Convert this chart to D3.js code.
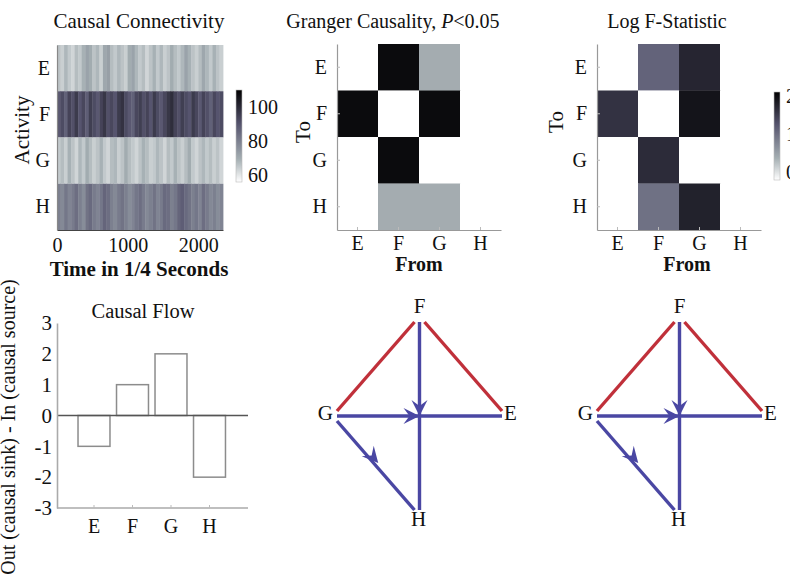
<!DOCTYPE html>
<html><head><meta charset="utf-8">
<script src="https://cdn.jsdelivr.net/npm/d3@7"></script>
<style>body{margin:0;background:#fff}svg{display:block}</style>
</head><body>
<script>
// ---------- data ----------
const nodeLabels = ['E','F','G','H'];
const timeTicks = [0, 1000, 2000];
const timeStep = 50;
const activityE = [66,64,68,65,63,67,65,69,72,70,66,68,64,71,73,67,65,68,66,64,70,72,68,65,67,63,66,69,65,68,64,66,70,67,65,68,72,69,66,64,67,71,68,65,69,66,64];
const activityF = [89,92,87,94,91,96,90,93,88,95,92,89,94,97,91,93,90,96,98,92,89,87,93,95,91,94,90,96,92,89,93,97,99,94,91,95,92,90,96,93,89,94,91,87,93,90,92];
const activityG = [65,67,64,69,66,63,68,65,70,67,64,66,69,65,63,67,68,64,66,70,67,65,63,66,69,67,64,65,68,66,63,67,65,69,66,64,67,70,65,63,66,68,65,67,64,66,63];
const activityH = [80,78,82,79,81,84,80,77,83,85,81,79,82,86,84,80,78,81,83,80,77,79,82,84,81,78,80,83,79,81,85,84,80,82,86,88,85,83,80,82,79,84,81,78,80,77,79];
const activityTicks = [60, 80, 100];
// rows = To, columns = From (E,F,G,H)
const grangerE = [0, 1, 0.5, 0];
const grangerF = [1, 0, 1, 0];
const grangerG = [0, 1, 0, 0];
const grangerH = [0, 0.5, 0.5, 0];
const logFE = [0, 1.10, 1.72, 0];
const logFF = [1.59, 0, 1.90, 0];
const logFG = [0, 1.66, 0, 0];
const logFH = [0, 0.97, 1.76, 0];
const logFTicks = [0, 1, 2];
const flowValues = [-1, 1, 2, -2];
const flowTicks = [-3, -2, -1, 0, 1, 2, 3];
// edges: from, to, kind ('both' = bidirectional, 'dir' = directed)
const edges = [['F','G','both'],['F','E','both'],['F','H','dir'],['G','E','dir'],['G','H','dir']];

// ---------- setup ----------
const FONT = "'Liberation Serif','Times New Roman',serif";
const svg = d3.select('body').append('svg').attr('width',790).attr('height',578)
  .style('font-family', FONT);

const bone = d3.scaleLinear().domain([0,0.375,0.75,1])
  .range(['#000000','#57556f','#a4aeb2','#ffffff']).clamp(true);
const actMin = 56, actMax = 110;
const actColor = v => bone((actMax - v) / (actMax - actMin));
const fMin = -0.2, fMax = 2.1;
const fColor = v => v === 0 ? '#ffffff' : bone((fMax - v) / (fMax - fMin));
const gColor = d3.scaleLinear().domain([0,0.5,1]).range(['#ffffff','#a4acb0','#0b0b0d']);

function styleAxis(g, size, stroke) {
  g.attr('font-family', FONT).attr('font-size', size);
  g.selectAll('text').attr('fill', '#111');
  g.select('.domain').attr('stroke', stroke).attr('stroke-width', 1.2);
  g.selectAll('.tick line').attr('stroke', '#bbb');
}
function text(x, y, s, size, opts = {}) {
  const t = svg.append('text').attr('x', x).attr('y', y).attr('font-size', size)
    .attr('text-anchor', opts.anchor || 'middle').attr('fill', '#111').text(s);
  if (opts.bold) t.attr('font-weight', 'bold');
  if (opts.rotate) t.attr('transform', `rotate(-90,${x},${y})`);
  return t;
}
function colorbar(id, x, y0, y1, lo, hi, colorFn, ticks) {
  const grad = svg.append('defs').append('linearGradient').attr('id', id)
    .attr('x1',0).attr('y1',1).attr('x2',0).attr('y2',0);
  d3.range(0, 1.0001, 0.05).forEach(o => grad.append('stop')
    .attr('offset', o).attr('stop-color', colorFn(lo + o * (hi - lo))));
  svg.append('rect').attr('x', x).attr('y', y0).attr('width', 6).attr('height', y1 - y0)
    .attr('fill', `url(#${id})`).attr('stroke', '#bbb').attr('stroke-width', 0.6);
  const s = d3.scaleLinear().domain([lo, hi]).range([y1, y0]);
  ticks.forEach(t => text(x + 12, s(t), t, 20, {anchor: 'start'}).attr('dy', '0.35em'));
}

// ---------- panel 1: causal connectivity heatmap ----------
{
  const x = d3.scaleLinear().domain([0, 2350]).range([57, 223]);
  const y = d3.scaleBand().domain(nodeLabels).range([45, 230]);
  const rows = [activityE, activityF, activityG, activityH];
  nodeLabels.forEach((r, ri) => {
    svg.append('g').selectAll('rect').data(rows[ri]).join('rect')
      .attr('x', (d, i) => x(i * timeStep))
      .attr('width', (d, i) => x((i + 1) * timeStep) - x(i * timeStep) + 0.4)
      .attr('y', y(r)).attr('height', y.bandwidth())
      .attr('fill', d => actColor(d));
  });
  const ax = svg.append('g').attr('transform', 'translate(0,230)')
    .call(d3.axisBottom(x).tickValues(timeTicks).tickFormat(d => String(d))
      .tickSize(0).tickSizeOuter(0).tickPadding(8));
  styleAxis(ax, 20, '#444');
  const ay = svg.append('g').attr('transform', 'translate(57,0)')
    .call(d3.axisLeft(y).tickSize(0).tickSizeOuter(0).tickPadding(7));
  styleAxis(ay, 20, '#888');
  text(139, 28, 'Causal Connectivity', 21);
  text(29, 130, 'Activity', 21, {rotate: true});
  text(139, 276, 'Time in 1/4 Seconds', 21, {bold: true});
  colorbar('cb1', 236, 90, 182, actMin, actMax, actColor, activityTicks);
}

// ---------- matrix panels ----------
function matrixPanel(x0, rows, colorFn, toX, toY, fromX) {
  const x = d3.scaleBand().domain(nodeLabels).range([x0, x0 + 164]);
  const y = d3.scaleBand().domain(nodeLabels).range([44, 230]);
  nodeLabels.forEach((r, ri) => {
    svg.append('g').selectAll('rect').data(rows[ri]).join('rect')
      .attr('x', (d, i) => x(nodeLabels[i])).attr('width', x.bandwidth() + 0.3)
      .attr('y', y(r)).attr('height', y.bandwidth() + 0.3)
      .attr('fill', d => colorFn(d));
  });
  const ax = svg.append('g').attr('transform', 'translate(0,230)')
    .call(d3.axisBottom(x).tickSize(3).tickSizeOuter(0).tickPadding(3));
  styleAxis(ax, 20, '#999');
  ax.selectAll('.tick line').attr('y2', -3);
  const ay = svg.append('g').attr('transform', `translate(${x0},0)`)
    .call(d3.axisLeft(y).tickSize(3).tickSizeOuter(0).tickPadding(7));
  styleAxis(ay, 20, '#999');
  ay.selectAll('.tick line').attr('x2', 3);
  text(toX, toY, 'To', 21, {rotate: true});
  text(fromX, 271, 'From', 20, {bold: true});
}
matrixPanel(337, [grangerE, grangerF, grangerG, grangerH], gColor, 310, 132, 419);
{
  const t = text(393, 28, 'Granger Causality, ', 20);
  t.append('tspan').attr('font-style', 'italic').text('P');
  t.append('tspan').text('<0.05');
}
matrixPanel(597, [logFE, logFF, logFG, logFH], fColor, 563, 122, 687);
text(667, 28, 'Log F-Statistic', 20);
colorbar('cb2', 774, 92, 180, fMin, fMax, v => bone((fMax - v) / (fMax - fMin)), logFTicks);

// ---------- panel 4: causal flow bars ----------
{
  const x = d3.scaleBand().domain(nodeLabels).range([74.75, 228.75]).paddingInner(0.17).paddingOuter(0.085);
  const y = d3.scaleLinear().domain([-3, 3]).range([508, 323]);
  svg.append('g').selectAll('rect').data(flowValues).join('rect')
    .attr('x', (d, i) => x(nodeLabels[i])).attr('width', x.bandwidth())
    .attr('y', d => y(Math.max(d, 0))).attr('height', d => Math.abs(y(d) - y(0)))
    .attr('fill', '#fff').attr('stroke', '#8c8c8c').attr('stroke-width', 1.5);
  svg.append('line').attr('x1', 57).attr('x2', 248).attr('y1', y(0)).attr('y2', y(0))
    .attr('stroke', '#555').attr('stroke-width', 1.5);
  const ay = svg.append('g').attr('transform', 'translate(57,0)')
    .call(d3.axisLeft(y).tickValues(flowTicks).tickFormat(d => String(d)).tickSize(0).tickSizeOuter(0).tickPadding(5));
  styleAxis(ay, 21, '#aaa');
  ay.select('.domain').attr('stroke-width', 1.6);
  svg.append('line').attr('x1', 57).attr('x2', 248).attr('y1', 508).attr('y2', 508)
    .attr('stroke', '#aaa').attr('stroke-width', 1.6);
  const ax = svg.append('g').attr('transform', 'translate(0,508)')
    .call(d3.axisBottom(x).tickSize(3).tickSizeOuter(0).tickPadding(8));
  styleAxis(ax, 20, 'none');
  ax.selectAll('.tick line').attr('y2', -3);
  text(143, 318, 'Causal Flow', 20.5);
  text(15, 427, 'Out (causal sink) - In (causal source)', 20, {rotate: true});
}

// ---------- panels 5 & 6: graphs ----------
function graphPanel(x0) {
  const layout = {E: [1, 0], F: [0, 1], G: [-1, 0], H: [0, -1]};
  const x = d3.scaleLinear().domain([-1, 1]).range([x0, x0 + 165]);
  const y = d3.scaleLinear().domain([-1, 1]).range([510, 322]);
  const pos = n => [x(layout[n][0]), y(layout[n][1])];
  const g = svg.append('g');
  function ends(a, b) {
    const pa = pos(a), pb = pos(b);
    const diag = layout[a][0] !== layout[b][0] && layout[a][1] !== layout[b][1];
    const shift = (p, q, n) => {
      if (!diag) return p.slice();
      return layout[n][1] !== 0 ? [p[0] + 5 * Math.sign(q[0] - p[0]), p[1]]
                                : [p[0], p[1] + 5 * Math.sign(q[1] - p[1])];
    };
    return [shift(pa, pb, a), shift(pb, pa, b)];
  }
  const sorted = edges.filter(e => e[2] === 'both').concat(edges.filter(e => e[2] === 'dir'));
  sorted.forEach(([a, b, kind]) => {
    const [p, q] = ends(a, b);
    g.append('line').attr('x1', p[0]).attr('y1', p[1]).attr('x2', q[0]).attr('y2', q[1])
      .attr('stroke', kind === 'both' ? '#c0303a' : '#4a47a3').attr('stroke-width', 3.4);
  });
  edges.filter(e => e[2] === 'dir').forEach(([a, b]) => {
    const pa = pos(a), pb = pos(b);
    const dx = pb[0] - pa[0], dy = pb[1] - pa[1], L = Math.hypot(dx, dy);
    const ux = dx / L, uy = dy / L;
    const tx = pa[0] + dx * 0.5, ty = pa[1] + dy * 0.5;
    const bx = tx - ux * 16, by = ty - uy * 16;
    const nx = -uy * 8, ny = ux * 8;
    g.append('path')
      .attr('d', `M${tx},${ty}L${bx + nx},${by + ny}L${tx - ux * 10},${ty - uy * 10}L${bx - nx},${by - ny}Z`)
      .attr('fill', '#4a47a3');
  });
  const [fx, fy] = pos('F'), [gx, gy] = pos('G'), [ex, ey] = pos('E'), [hx, hy] = pos('H');
  text(fx, fy - 9, 'F', 21);
  text(gx - 4, gy + 4, 'G', 21, {anchor: 'end'});
  text(ex + 2, ey + 4, 'E', 21, {anchor: 'start'});
  text(hx - 1, hy + 16, 'H', 21);
}
graphPanel(337);
graphPanel(597);
</script>
</body></html>
